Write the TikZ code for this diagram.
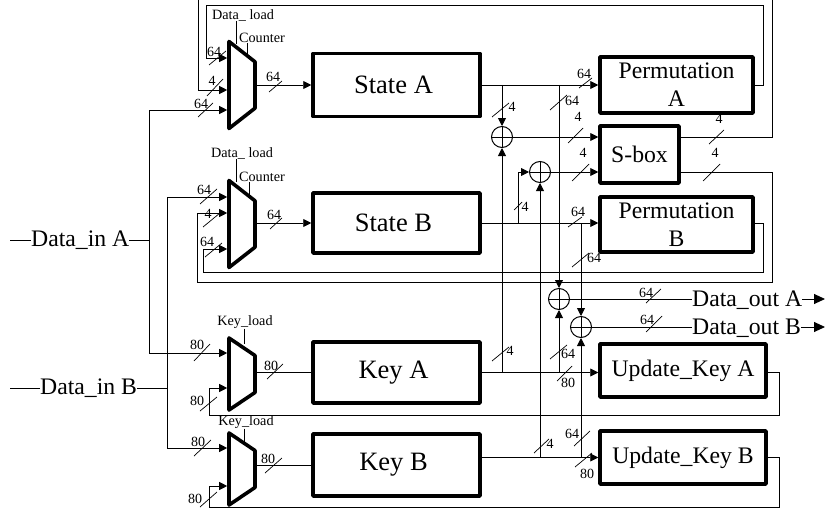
\documentclass[tikz,border=0pt]{standalone}
\usepackage{fontspec}
\setmainfont{Liberation Serif}
\usetikzlibrary{arrows.meta,shapes.geometric}

\begin{document}
\begin{tikzpicture}[
    x=1pt, y=-1pt,
    block/.style={draw, line width=3.5pt, line join=round, align=center, inner sep=0pt, font=\fontsize{23.7}{28}\selectfont},
    bigblock/.style={block, font=\fontsize{26.5}{30}\selectfont, execute at end node=\hspace*{6pt}},
    mux/.style={draw, trapezium, shape border rotate=270, trapezium stretches body, line width=3.6pt, line join=round, inner sep=13pt},
    muxdata/.style={mux, minimum width=87pt, trapezium left angle=52, trapezium right angle=52},
    muxkey/.style={mux, minimum width=72pt, trapezium left angle=56, trapezium right angle=56},
    xorgate/.style={draw, circle, line width=1pt, minimum size=21pt, inner sep=0pt, path picture={\draw[line width=1pt] (path picture bounding box.north) -- (path picture bounding box.south) (path picture bounding box.west) -- (path picture bounding box.east);}},
    port/.style={inner sep=0pt, font=\fontsize{23.7}{28}\selectfont},
    ctrl/.style={inner sep=0pt, font=\fontsize{14.2}{16}\selectfont},
    buslabel/.style={inner sep=0pt, font=\fontsize{14}{16}\selectfont},
    tick/.style={line width=0.7pt},
    wire/.style={line width=0.9pt},
    link/.style={wire, -{Triangle[length=8pt,width=8pt]}},
    outlink/.style={wire, -{Triangle[length=11pt,width=10pt]}}
]
\useasboundingbox (0,0) rectangle (825,511);

% multiplexers
\node[muxdata] (muxA) at (242,85) {};
\node[muxdata] (muxB) at (242,224) {};
\node[muxkey] (muxKA) at (242,374) {};
\node[muxkey] (muxKB) at (242,469) {};

% registers
\node[bigblock, minimum width=167pt, minimum height=63pt] (stateA) at (396.5,85) {State A};
\node[bigblock, minimum width=167pt, minimum height=60pt] (stateB) at (396.5,223) {State B};
\node[bigblock, minimum width=167pt, minimum height=61pt] (keyA) at (396.5,372.5) {Key A};
\node[bigblock, minimum width=167pt, minimum height=62pt] (keyB) at (396.5,465) {Key B};

% round functions
\node[block, minimum width=153pt, minimum height=56pt] (permA) at (676.5,85) {Permutation\\A};
\node[block, minimum width=79pt, minimum height=57pt] (sbox) at (639.5,154.5) {S-box};
\node[block, minimum width=153pt, minimum height=55pt] (permB) at (676.5,224.5) {Permutation\\B};
\node[block, minimum width=166pt, minimum height=53pt] (updA) at (683,370.5) {Update\_Key A};
\node[block, minimum width=166pt, minimum height=53pt] (updB) at (683,457.5) {Update\_Key B};

% xor gates
\node[xorgate] (xorA) at (502,137) {};
\node[xorgate] (xorB) at (540,172) {};
\node[xorgate] (xorC) at (559,299) {};
\node[xorgate] (xorD) at (581,327) {};

% ports
\node[port, anchor=west] (inA) at (31,240) {Data\_in A};
\node[port, anchor=west] (inB) at (40,388) {Data\_in B};
\node[port, anchor=west] (outA) at (692,300) {Data\_out A};
\node[port, anchor=west] (outB) at (692,328) {Data\_out B};
\coordinate (startA) at (10,240);
\coordinate (startB) at (10,388);

% control inputs
\node[ctrl] (loadA) at (243,15) {Data\_ load};
\node[ctrl] (countA) at (262,38) {Counter};
\node[ctrl] (loadB) at (242,153) {Data\_ load};
\node[ctrl] (countB) at (262,177) {Counter};
\node[ctrl] (loadKA) at (245,322) {Key\_load};
\node[ctrl] (loadKB) at (246,422) {Key\_load};
\draw[wire] ([xshift=-7pt]loadA.south) -- ++(0,23);
\draw[wire] ([xshift=-15pt]countA.south) -- ++(0,12);
\draw[wire] ([xshift=-6pt]loadB.south) -- ++(0,23);
\draw[wire] ([xshift=-13pt]countB.south) -- ++(0,14);
\draw[wire] ([xshift=-1pt]loadKA.south) -- ++(0,15);
\draw[wire] ([xshift=-2pt]loadKB.south) -- ++(0,13);

% inputs
\draw[wire] (startA) -- (inA.west |- startA);
\draw[wire] (startB) -- (inB.west |- startB);
\draw[wire] (inA.east |- startA) -- (149,240);
\draw[wire] (inB.east |- startB) -- (167,388);
\draw[link] (149,240) -- (149,110) -- (muxA.west |- 0,110);
\draw[link] (149,240) -- (149,353) -- (muxKA.west |- 0,353);
\draw[link] (167,388) -- (167,197) -- (muxB.west |- 0,197);
\draw[link] (167,388) -- (167,448) -- (muxKB.west |- 0,448);

% data path
\draw[link] (muxA.east |- stateA.west) -- (stateA.west);
\draw[link] (muxB.east |- stateB.west) -- (stateB.west);
\draw[wire] (muxKA.east |- keyA.west) -- (keyA.west);
\draw[wire] (muxKB.east |- keyB.west) -- (keyB.west);
\draw[link] (stateA.east) -- (permA.west);
\draw[link] (stateB.east) -- (permB.west |- stateB.east);
\draw[link] (keyA.east) -- (updA.west |- keyA.east);
\draw[link] (keyB.east |- updB.west) -- (updB.west);

% feedback
\draw[link] (permA.east) -- ++(9,0) |- (206,5) |- (muxA.west |- 0,58);
\draw[link] (sbox.east |- xorA) -- (772,137) -- (772,-1) -- (198,-1) |- (muxA.west |- 0,90);
\draw[link] (sbox.east |- xorB) -- (772,172) |- (197,282) |- (muxB.west |- 0,213);
\draw[link] (permB.east |- stateB.east) -- ++(9,0) |- (203,272) |- (muxB.west |- 0,249);
\draw[link] (updA.east |- keyA.east) -- ++(12,0) |- (209,415) |- (muxKA.west |- 0,388);
\draw[link] (updB.east) -- ++(12,0) |- (209,507) |- (muxKB.west |- 0,486);

% xor inputs
\draw[link] (xorA |- stateA.east) -- (xorA.north);
\draw[link] (xorA |- keyA.east) -- (xorA.south);
\draw[link] (518,223) |- (xorB.west);
\draw[link] (xorB |- updB.west) -- (xorB.south);
\draw[link] (xorC |- stateA.east) -- (xorC.north);
\draw[link] (xorC |- keyA.east) -- (xorC.south);
\draw[link] (xorD |- stateB.east) -- (xorD.north);
\draw[link] (xorD |- updB.west) -- (xorD.south);

% xor outputs
\draw[link] (xorA.east) -- (xorA -| sbox.west);
\draw[link] (xorB.east) -- (xorB -| sbox.west);
\draw[wire] (xorC.east) -- (xorC -| outA.west);
\draw[wire] (xorD.east) -- (xorD -| outB.west);
\draw[outlink] (outA.east |- xorC) -- (825,299);
\draw[outlink] (outB.east |- xorD) -- (825,327);

% bus widths
\foreach \xa/\ya/\xb/\yb/\lx/\ly/\w [count=\i] in {
    209/65/226/51/214/52/64, 207/96/223/79/212/81/4, 198/117/213/103/201/104/64, 269/92/282/81/273/77/64,
    200/204/217/189/204/190/64, 203/227/220/213/208/214/4, 205/257/222/243/207/242/64, 270/229/282/218/274/215/64,
    579/88/592/78/584/74/64, 550/110/567/95/572/101/64, 492/117/509/103/512/107/4, 568/143/583/128/578/117/4,
    709/144/724/130/719/119/4, 572/181/589/164/583/153/4, 703/181/720/164/715/153/4, 514/210/522/202/525/207/4,
    568/227/582/217/578/212/64, 572/267/589/253/594/258/64, 646/303/661/289/646/293/64, 646/332/662/316/647/320/64,
    492/361/509/347/510/351/4, 550/359/567/345/568/354/64, 557/381/572/366/568/383/80, 534/453/549/439/550/444/4,
    574/446/590/431/572/434/64, 575/467/592/453/587/474/80, 194/361/210/344/197/345/80, 200/411/217/397/197/401/80,
    267/379/283/364/271/366/80, 194/456/211/440/198/442/80, 200/507/217/492/195/499/80, 265/473/282/458/268/459/80}
{
    \draw[tick] (\xa,\ya) -- (\xb,\yb);
    \node[buslabel] (width\i) at (\lx,\ly) {\w};
}
\end{tikzpicture}
\end{document}
